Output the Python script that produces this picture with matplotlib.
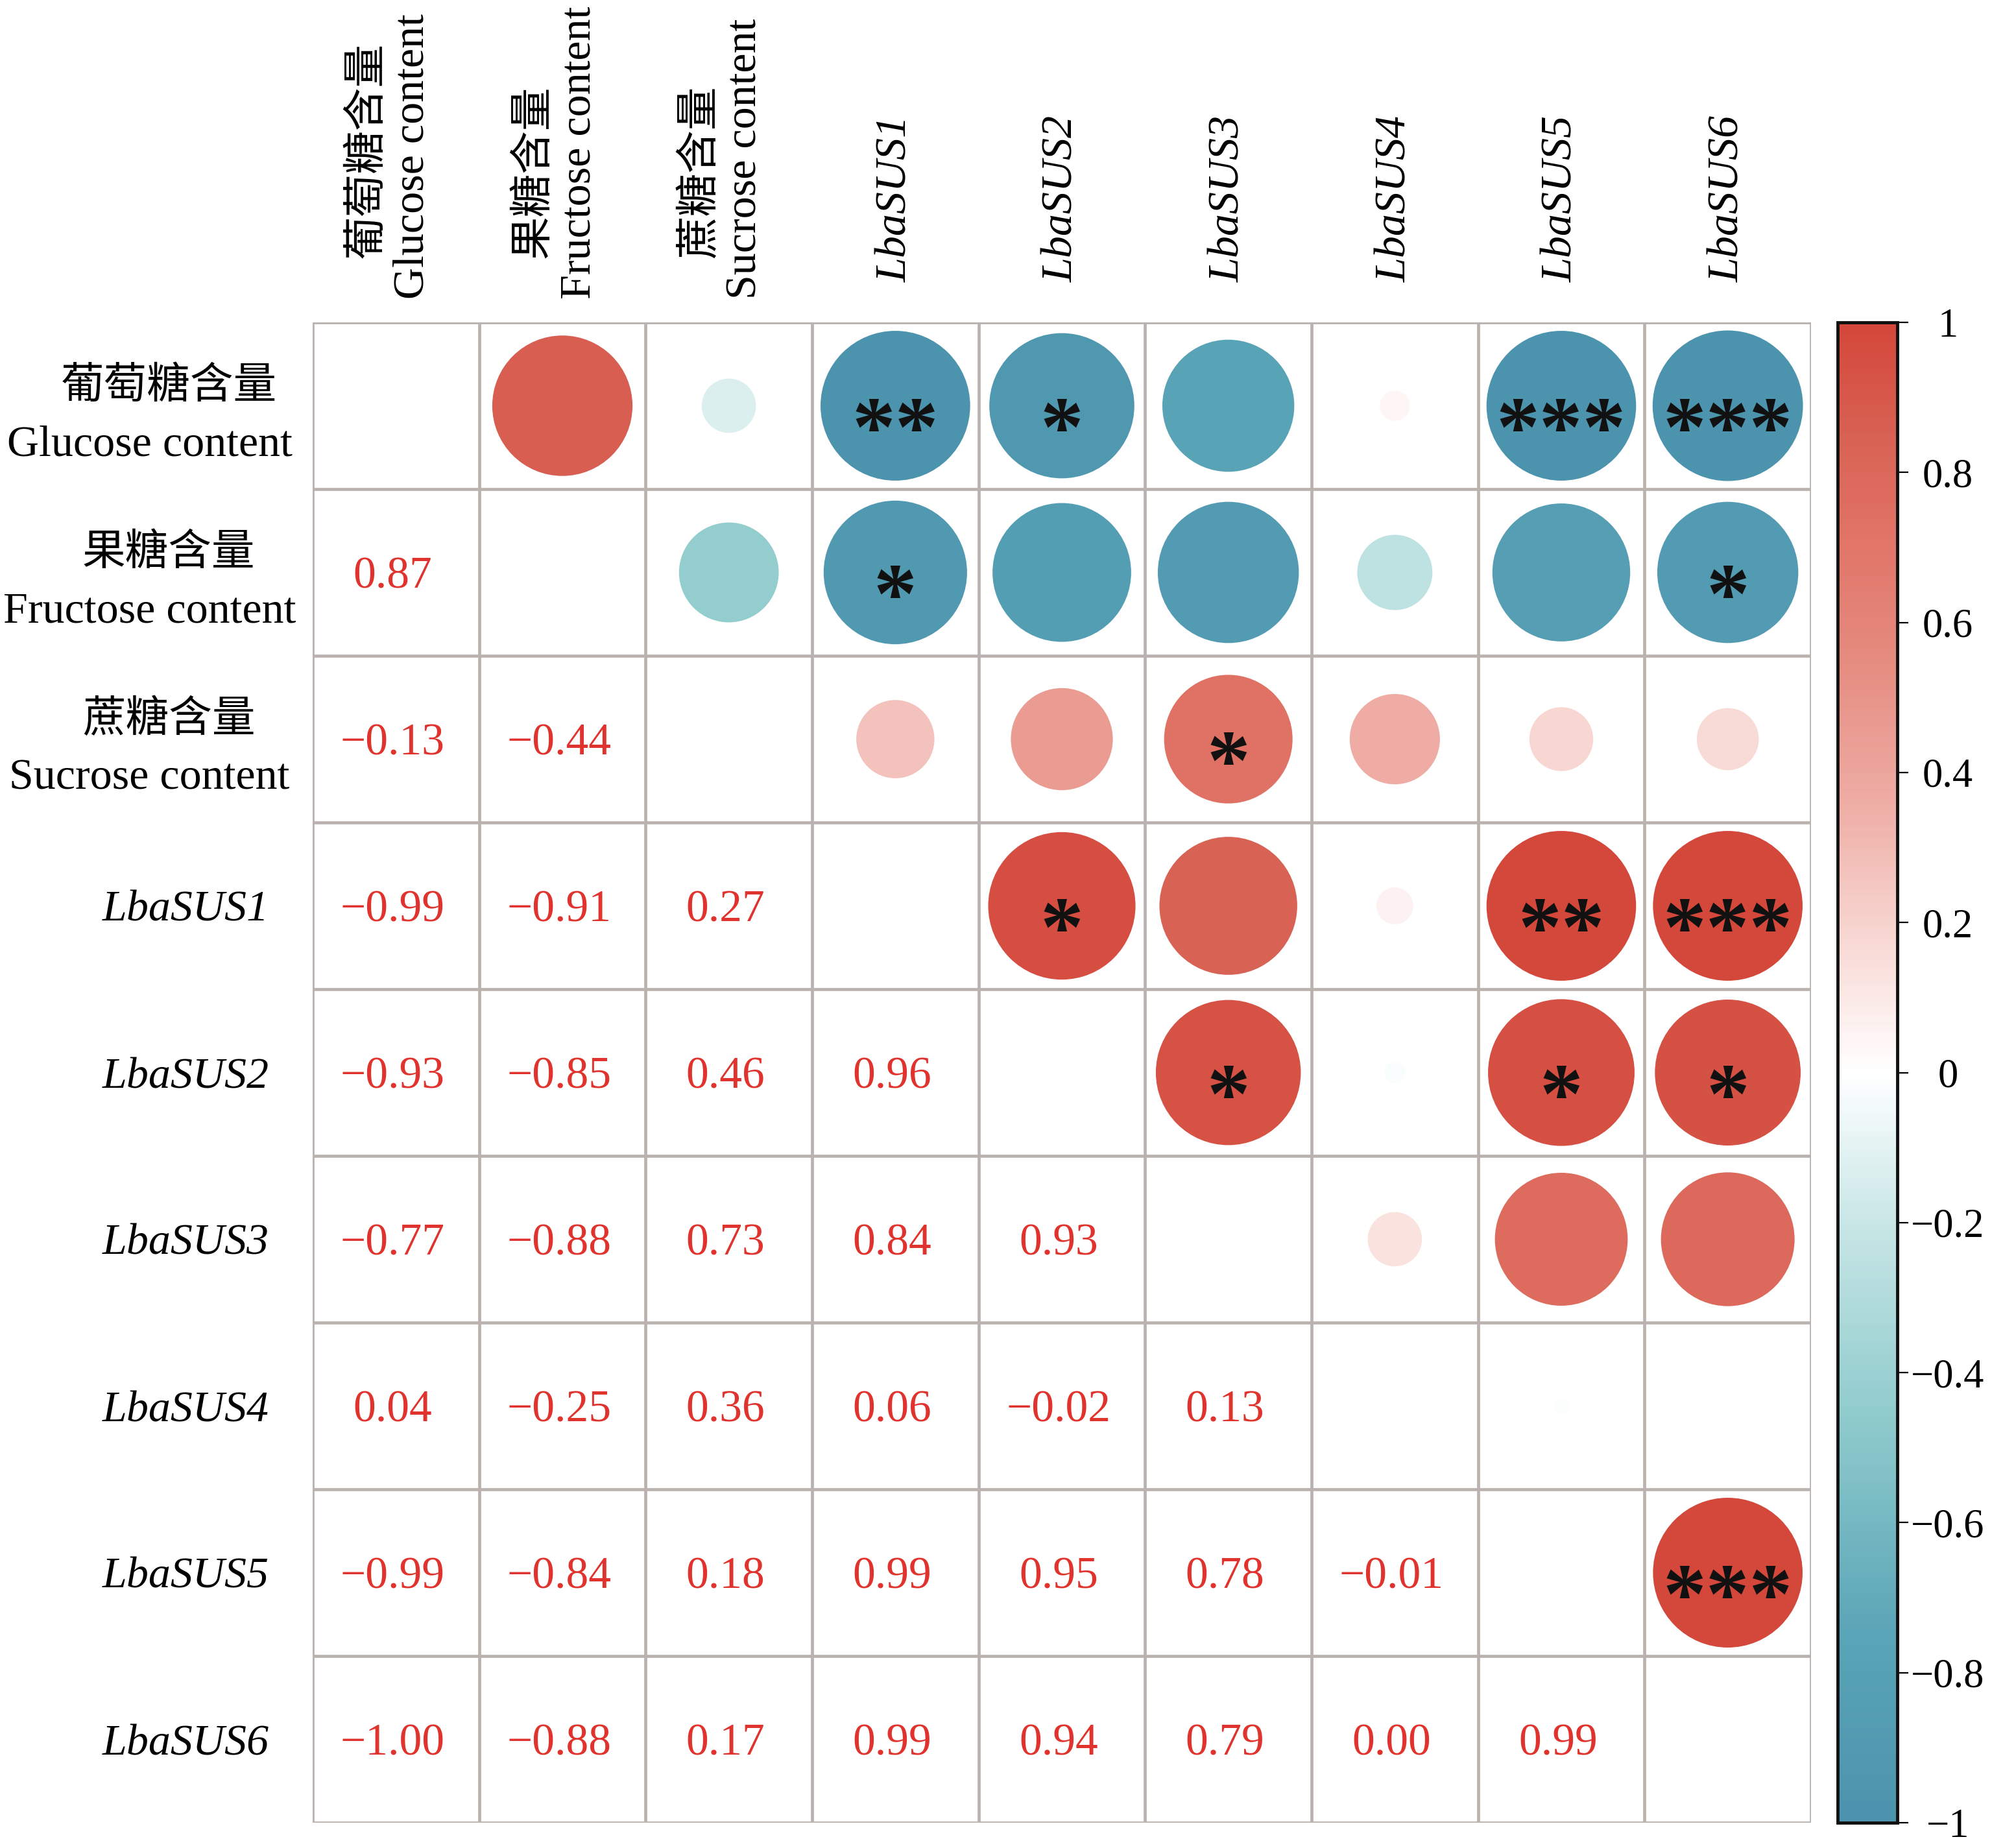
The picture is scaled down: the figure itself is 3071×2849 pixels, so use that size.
import numpy as np
import matplotlib
matplotlib.use('Agg')
import matplotlib.pyplot as plt
from matplotlib.colors import LinearSegmentedColormap, Normalize
from matplotlib.patches import Circle
from matplotlib.cm import ScalarMappable

plt.rcParams['font.family'] = ['Liberation Serif', 'Noto Sans CJK SC', 'DejaVu Sans']

# variable names (Chinese + English for the sugar contents, genes in italics)
names_cn = ['葡萄糖含量', '果糖含量', '蔗糖含量']
names_en = ['Glucose content', 'Fructose content', 'Sucrose content']
genes = ['LbaSUS1', 'LbaSUS2', 'LbaSUS3', 'LbaSUS4', 'LbaSUS5', 'LbaSUS6']

# lower triangle of the correlation matrix, row by row
lower = [
    [],
    [0.87],
    [-0.13, -0.44],
    [-0.99, -0.91, 0.27],
    [-0.93, -0.85, 0.46, 0.96],
    [-0.77, -0.88, 0.73, 0.84, 0.93],
    [0.04, -0.25, 0.36, 0.06, -0.02, 0.13],
    [-0.99, -0.84, 0.18, 0.99, 0.95, 0.78, -0.01],
    [-1.00, -0.88, 0.17, 0.99, 0.94, 0.79, 0.00, 0.99],
]

# significance stars in the upper triangle: (row, col, n stars)
stars = [(0, 3, 2), (0, 4, 1), (0, 7, 3), (0, 8, 3),
         (1, 3, 1), (1, 8, 1),
         (2, 5, 1),
         (3, 4, 1), (3, 7, 2), (3, 8, 3),
         (4, 5, 1), (4, 7, 1), (4, 8, 1),
         (7, 8, 3)]

cbar_ticks = [1, 0.8, 0.6, 0.4, 0.2, 0, -0.2, -0.4, -0.6, -0.8, -1]

n = len(lower)
corr = np.eye(n)
for i, row in enumerate(lower):
    for j, v in enumerate(row):
        corr[i, j] = v
        corr[j, i] = v

cmap = LinearSegmentedColormap.from_list('corr', [
    (0.0, '#4C93AD'), (0.125, '#5AA5B7'), (0.275, '#91CCCD'), (0.4, '#C9E6E6'),
    (0.5, '#FFFFFF'), (0.6, '#F7D3CE'), (0.68, '#EEADA5'), (0.78, '#E58A7E'),
    (0.865, '#E07265'), (0.925, '#D86254'), (1.0, '#D4473A')])
norm = Normalize(-1, 1)

fig = plt.figure(figsize=(30.71, 28.49), dpi=100)
ax = fig.add_axes([482 / 3071, 1 - 2810 / 2849, 2310 / 3071, 2313 / 2849])
ax.set_xlim(0, n)
ax.set_ylim(n, 0)
for s in ax.spines.values():
    s.set_visible(False)
ax.set_xticks([])
ax.set_yticks([])

grid_col = '#BAB2AE'
ax.hlines(range(n + 1), 0, n, color=grid_col, lw=3.4, zorder=1)
ax.vlines(range(n + 1), 0, n, color=grid_col, lw=3.4, zorder=1)

num_col = '#E0332D'
for i in range(n):
    for j in range(n):
        if i > j:
            ax.text(j + 0.48, i + 0.5, f'{corr[i, j]:.2f}'.replace('-', '\u2212'),
                    ha='center', va='center_baseline', fontsize=50, color=num_col)
        elif i < j:
            r = corr[i, j]
            ax.add_patch(Circle((j + 0.5, i + 0.5), 0.4515 * np.sqrt(abs(r)),
                                facecolor=cmap(norm(r)), edgecolor='none', zorder=2))

for i, j, k in stars:
    ax.text(j + 0.5, i + 0.8, '*' * k, ha='center', va='baseline',
            fontsize=96, fontweight='bold', color='#111111', zorder=3)

# row labels: Chinese line above English line
for i in range(3):
    ax.text(-0.865, i + 0.39, names_cn[i], ha='center', va='center',
            fontsize=48)
    ax.text(-0.98, i + 0.71, names_en[i], ha='center', va='center_baseline',
            fontsize=49)
for k, g in enumerate(genes):
    ax.text(-0.26, k + 3.5, g, ha='right', va='center_baseline', fontsize=49,
            style='italic')

# column labels, rotated; Chinese line left of English line
for j in range(3):
    ax.text(j + 0.33, -0.385, names_cn[j], ha='center', va='bottom',
            rotation=90, fontsize=48)
    ax.text(j + 0.6, -0.14, names_en[j], ha='center', va='bottom',
            rotation=90, fontsize=49)
for k, g in enumerate(genes):
    ax.text(k + 3.5, -0.24, g, ha='center', va='bottom', rotation=90, fontsize=49,
            style='italic')

# colorbar
cax = fig.add_axes([2833 / 3071, 1 - 2810 / 2849, 92 / 3071, 2313 / 2849])
cb = fig.colorbar(ScalarMappable(norm=norm, cmap=cmap), cax=cax)
cb.outline.set_linewidth(3.5)
cb.outline.set_edgecolor('#111111')
cb.set_ticks(cbar_ticks)
cb.set_ticklabels([f'{t:g}'.replace('-', '\u2212') for t in cbar_ticks])
cax.tick_params(axis='y', direction='out', length=12, width=1.6, pad=44, labelsize=45)
for lab in cax.get_yticklabels():
    lab.set_horizontalalignment('center')

fig.savefig('out.png', dpi=100)
